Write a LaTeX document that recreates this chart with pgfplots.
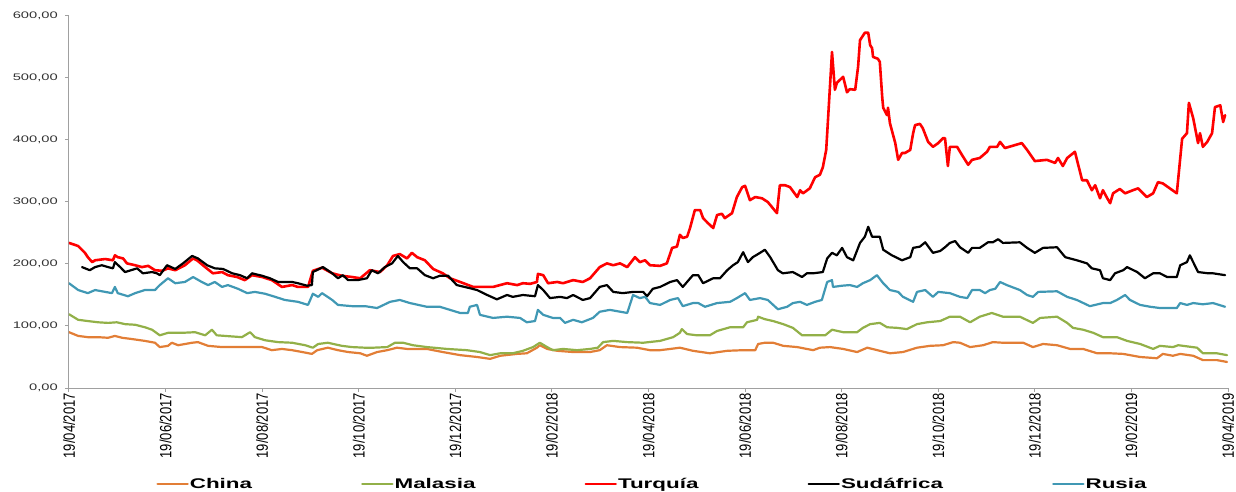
\documentclass[border=0pt]{standalone}
\usepackage{pgfplots}
\usepackage{graphicx}
\usepackage{fontspec}
\setmainfont{Liberation Sans}
\pgfplotsset{compat=1.18}
\definecolor{cChina}{RGB}{226,126,54}
\definecolor{cMal}{RGB}{146,176,72}
\definecolor{cTur}{RGB}{255,0,0}
\definecolor{cSud}{RGB}{0,0,0}
\definecolor{cRus}{RGB}{64,152,180}
\definecolor{axgray}{RGB}{160,160,160}
\newcommand{\XL}[1]{\scalebox{1}[1.25]{#1}}
\begin{document}
\begin{tikzpicture}
\path[use as bounding box] (-69pt,-104pt) rectangle (1167pt,388pt);
\begin{axis}[
  at={(0pt,0pt)}, anchor=south west,
  scale only axis, width=1159pt, height=372pt,
  xmin=0, xmax=24, ymin=0, ymax=600,
  axis x line*=bottom, axis y line*=left,
  axis line style={axgray, line width=1pt},
  tick style={axgray, line width=1pt},
  tick align=outside, major tick length=4pt,
  xtick={0,2,...,24},
  xticklabels={\XL{19/04/2017},\XL{19/06/2017},\XL{19/08/2017},\XL{19/10/2017},\XL{19/12/2017},\XL{19/02/2018},\XL{19/04/2018},\XL{19/06/2018},\XL{19/08/2018},\XL{19/10/2018},\XL{19/12/2018},\XL{19/02/2019},\XL{19/04/2019}},
  xticklabel style={rotate=90, anchor=east, font=\fontsize{13}{13}\selectfont, inner sep=1pt},
  ytick={0,100,...,600},
  yticklabel={\scalebox{1.55}[1]{\pgfmathprintnumber[fixed,fixed zerofill,precision=2,use comma,1000 sep={},assume math mode=true]{\tick}}},
  yticklabel style={font=\fontsize{9.5}{10}\selectfont, text=black!80, anchor=east, inner sep=1pt, xshift=-6pt},
  legend columns=5,
  legend style={at={(0.503,-0.258)}, anchor=center, draw=none, fill=none,
    font=\fontsize{14}{14}\selectfont\bfseries,
    /tikz/every even column/.append style={column sep=108pt},
    nodes={inner sep=1pt}},
  legend image code/.code={\draw[#1, line width=2.5pt] (0pt,0pt) -- (30pt,0pt);},
  every axis plot/.append style={line join=round, line cap=round},
]
% China
\addplot[cChina, line width=2.2pt] coordinates {
(0.00,90)(0.19,84)(0.39,82)(0.60,82)(0.81,81)(0.95,84)(1.10,81)(1.30,79)(1.57,76)(1.78,73)(1.88,66)(2.05,68)(2.13,73)(2.26,69)(2.55,73)(2.67,74)(2.88,68)(3.17,66)(3.50,66)(3.79,66)(4.00,66)(4.20,61)(4.41,63)(4.62,61)(4.83,58)(5.03,55)(5.14,61)(5.36,65)(5.57,61)(5.78,58)(6.03,56)(6.17,52)(6.38,58)(6.59,61)(6.79,65)(7.00,63)(7.41,63)(7.74,58)(8.10,53)(8.45,50)(8.72,47)(8.93,52)(9.28,55)(9.48,56)(9.69,65)(9.75,69)(9.90,63)(10.11,60)(10.44,58)(10.79,58)(10.99,61)(11.14,69)(11.41,66)(11.76,65)(12.03,61)(12.24,61)(12.45,63)(12.65,65)(12.92,60)(13.27,56)(13.63,60)(13.96,61)(14.21,61)(14.27,71)(14.41,73)(14.58,73)(14.79,68)(15.08,66)(15.41,61)(15.55,65)(15.76,66)(16.03,63)(16.32,58)(16.53,65)(16.79,60)(17.00,56)(17.27,58)(17.56,65)(17.83,68)(18.10,69)(18.31,74)(18.45,73)(18.66,66)(18.93,69)(19.13,74)(19.34,73)(19.76,73)(19.96,66)(20.17,71)(20.46,69)(20.73,63)(21.00,63)(21.29,56)(21.56,56)(21.83,55)(22.18,50)(22.53,48)(22.65,55)(22.86,52)(23.01,55)(23.28,52)(23.48,45)(23.77,45)(23.98,42)
};
\addlegendentry{\scalebox{1.6}[1]{China}}
% Malasia
\addplot[cMal, line width=2.2pt] coordinates {
(0.00,119)(0.19,110)(0.39,108)(0.60,106)(0.81,105)(0.99,106)(1.16,103)(1.37,102)(1.57,98)(1.72,94)(1.88,85)(2.05,89)(2.34,89)(2.61,90)(2.82,85)(2.96,94)(3.06,85)(3.23,84)(3.58,82)(3.75,90)(3.85,82)(4.06,77)(4.33,74)(4.62,73)(4.89,69)(5.05,65)(5.16,71)(5.36,73)(5.65,68)(5.86,66)(6.13,65)(6.30,65)(6.59,66)(6.75,73)(6.92,73)(7.12,69)(7.41,66)(7.83,63)(8.24,61)(8.51,58)(8.72,53)(8.93,56)(9.19,56)(9.40,60)(9.61,66)(9.75,73)(9.90,66)(10.02,61)(10.23,63)(10.52,61)(10.79,63)(10.95,65)(11.06,74)(11.27,76)(11.56,74)(11.89,73)(12.24,76)(12.51,82)(12.65,89)(12.69,95)(12.80,87)(13.00,85)(13.27,85)(13.42,92)(13.69,98)(13.96,98)(14.04,106)(14.25,110)(14.27,115)(14.41,111)(14.58,108)(14.79,103)(14.99,97)(15.18,85)(15.41,85)(15.66,85)(15.80,94)(16.03,90)(16.32,90)(16.44,97)(16.59,103)(16.79,105)(16.94,98)(17.15,97)(17.35,95)(17.56,103)(17.77,106)(18.04,108)(18.24,115)(18.45,115)(18.66,106)(18.86,115)(19.11,121)(19.34,115)(19.69,115)(19.96,105)(20.11,113)(20.46,115)(20.67,105)(20.79,97)(21.00,94)(21.21,89)(21.41,82)(21.70,82)(21.91,76)(22.18,71)(22.45,63)(22.59,68)(22.86,66)(22.97,69)(23.07,68)(23.36,65)(23.48,56)(23.77,56)(23.98,53)
};
\addlegendentry{\scalebox{1.6}[1]{Malasia}}
% Turquia
\addplot[cTur, line width=2.6pt] coordinates {
(0.00,234)(0.19,229)(0.33,218)(0.39,211)(0.48,203)(0.54,206)(0.75,208)(0.91,206)(0.95,214)(1.01,211)(1.12,209)(1.20,201)(1.37,198)(1.51,195)(1.64,197)(1.78,190)(1.93,189)(2.05,193)(2.20,190)(2.40,198)(2.57,209)(2.65,206)(2.82,195)(2.98,185)(3.17,187)(3.29,182)(3.48,179)(3.64,174)(3.79,182)(4.00,179)(4.20,174)(4.41,163)(4.62,166)(4.74,163)(4.95,163)(5.05,189)(5.24,194)(5.45,185)(5.65,181)(5.86,179)(6.03,177)(6.23,190)(6.44,187)(6.59,198)(6.71,213)(6.85,216)(7.00,209)(7.10,218)(7.21,211)(7.37,206)(7.54,192)(7.74,185)(7.89,177)(8.10,171)(8.37,163)(8.57,163)(8.78,163)(9.07,169)(9.28,166)(9.40,169)(9.55,168)(9.69,171)(9.71,184)(9.82,182)(9.92,169)(10.11,171)(10.23,169)(10.44,174)(10.64,171)(10.79,177)(10.99,195)(11.14,201)(11.27,198)(11.41,201)(11.56,195)(11.72,211)(11.82,203)(11.93,206)(12.03,198)(12.24,197)(12.38,201)(12.49,226)(12.59,228)(12.65,247)(12.71,242)(12.80,244)(12.86,258)(12.96,287)(13.07,287)(13.13,274)(13.23,266)(13.34,258)(13.42,279)(13.52,281)(13.58,274)(13.73,282)(13.83,308)(13.94,324)(14.00,326)(14.10,303)(14.21,308)(14.35,306)(14.47,300)(14.66,282)(14.72,327)(14.83,327)(14.93,324)(15.08,308)(15.14,319)(15.20,314)(15.34,322)(15.45,340)(15.55,344)(15.61,356)(15.68,384)(15.80,542)(15.86,481)(15.90,492)(16.03,502)(16.11,477)(16.17,482)(16.28,481)(16.34,518)(16.38,561)(16.48,573)(16.55,573)(16.59,553)(16.63,548)(16.65,534)(16.75,531)(16.79,526)(16.84,469)(16.86,452)(16.94,440)(16.96,452)(17.00,427)(17.11,395)(17.17,368)(17.25,379)(17.31,379)(17.42,384)(17.48,411)(17.52,424)(17.62,426)(17.68,419)(17.79,397)(17.89,389)(18.00,395)(18.10,403)(18.14,403)(18.20,358)(18.24,389)(18.39,389)(18.49,376)(18.62,360)(18.70,368)(18.86,371)(19.01,381)(19.07,389)(19.22,389)(19.28,397)(19.38,387)(19.73,395)(19.84,384)(20.00,366)(20.25,368)(20.42,363)(20.48,371)(20.58,358)(20.67,371)(20.83,381)(20.98,335)(21.08,335)(21.18,319)(21.25,327)(21.35,306)(21.41,319)(21.50,306)(21.56,298)(21.62,314)(21.76,321)(21.87,314)(22.03,319)(22.14,322)(22.32,308)(22.45,314)(22.55,332)(22.65,330)(22.94,314)(23.05,402)(23.15,411)(23.19,460)(23.28,435)(23.38,395)(23.42,411)(23.48,389)(23.57,397)(23.67,411)(23.73,453)(23.84,456)(23.90,429)(23.94,440)
};
\addlegendentry{\scalebox{1.6}[1]{Turquía}}
% Sudafrica
\addplot[cSud, line width=2.2pt] coordinates {
(0.27,195)(0.43,190)(0.54,195)(0.68,198)(0.81,195)(0.91,193)(0.95,203)(1.06,195)(1.16,187)(1.41,193)(1.53,185)(1.72,187)(1.82,185)(1.88,182)(2.03,198)(2.20,192)(2.36,201)(2.55,213)(2.67,209)(2.86,198)(3.02,193)(3.19,192)(3.38,185)(3.54,182)(3.69,177)(3.79,185)(4.00,181)(4.16,177)(4.33,171)(4.62,171)(4.74,169)(4.93,165)(5.03,166)(5.05,187)(5.26,195)(5.45,185)(5.57,177)(5.67,182)(5.78,174)(5.98,174)(6.17,177)(6.27,190)(6.40,185)(6.54,195)(6.69,201)(6.81,213)(6.92,203)(7.06,193)(7.21,193)(7.37,182)(7.54,177)(7.68,181)(7.85,181)(8.03,166)(8.30,161)(8.45,158)(8.66,150)(8.86,143)(9.07,150)(9.19,147)(9.40,150)(9.65,148)(9.71,166)(9.82,158)(9.96,145)(10.17,147)(10.31,145)(10.44,150)(10.64,142)(10.79,145)(10.99,163)(11.14,166)(11.27,155)(11.47,153)(11.68,155)(11.89,155)(11.97,148)(12.09,160)(12.24,163)(12.45,171)(12.59,174)(12.71,163)(12.92,182)(13.03,182)(13.13,169)(13.34,177)(13.48,177)(13.63,190)(13.75,198)(13.85,203)(13.96,219)(14.06,203)(14.16,211)(14.31,218)(14.41,223)(14.52,211)(14.68,190)(14.78,185)(14.99,187)(15.18,179)(15.28,185)(15.41,185)(15.61,187)(15.70,209)(15.80,218)(15.90,214)(16.01,226)(16.11,211)(16.24,206)(16.38,234)(16.48,244)(16.55,260)(16.63,244)(16.79,244)(16.86,223)(17.04,214)(17.25,206)(17.42,211)(17.48,226)(17.62,228)(17.73,235)(17.89,218)(18.04,221)(18.14,227)(18.24,234)(18.35,237)(18.45,227)(18.62,218)(18.70,226)(18.86,226)(19.03,235)(19.13,235)(19.24,240)(19.34,234)(19.69,235)(19.84,226)(20.00,218)(20.17,226)(20.46,227)(20.63,211)(20.87,206)(21.08,201)(21.18,193)(21.35,190)(21.41,177)(21.56,174)(21.66,185)(21.83,190)(21.91,195)(22.12,187)(22.28,177)(22.45,185)(22.59,185)(22.74,179)(22.94,179)(23.01,198)(23.15,203)(23.21,214)(23.38,187)(23.59,185)(23.69,185)(23.94,182)
};
\addlegendentry{\scalebox{1.6}[1]{Sudáfrica}}
% Rusia
\addplot[cRus, line width=2.2pt] coordinates {
(0.00,169)(0.19,158)(0.39,153)(0.54,158)(0.75,155)(0.89,153)(0.95,163)(1.01,153)(1.22,148)(1.37,153)(1.57,158)(1.78,158)(1.88,166)(2.05,177)(2.20,169)(2.40,171)(2.57,179)(2.75,171)(2.88,166)(3.02,171)(3.17,163)(3.29,166)(3.50,160)(3.69,153)(3.85,155)(4.06,152)(4.27,147)(4.47,142)(4.74,139)(4.95,134)(5.05,152)(5.16,147)(5.24,153)(5.45,142)(5.57,134)(5.86,132)(6.13,132)(6.38,129)(6.65,139)(6.85,142)(7.06,137)(7.41,131)(7.68,131)(7.89,126)(8.10,121)(8.26,121)(8.30,131)(8.45,134)(8.51,118)(8.78,113)(9.07,115)(9.34,113)(9.48,106)(9.65,108)(9.71,126)(9.82,118)(10.02,113)(10.17,113)(10.27,105)(10.44,110)(10.62,106)(10.85,113)(10.99,123)(11.20,126)(11.56,121)(11.68,150)(11.82,145)(11.93,147)(12.03,137)(12.24,134)(12.45,142)(12.61,145)(12.71,132)(12.92,137)(13.03,137)(13.17,131)(13.42,137)(13.69,139)(13.83,145)(14.00,153)(14.10,142)(14.31,145)(14.47,142)(14.68,127)(14.87,131)(14.99,137)(15.14,139)(15.28,134)(15.45,139)(15.59,142)(15.70,171)(15.80,174)(15.82,163)(16.01,165)(16.17,166)(16.32,163)(16.44,169)(16.59,174)(16.73,182)(16.86,169)(17.00,158)(17.17,155)(17.27,147)(17.48,139)(17.56,155)(17.73,158)(17.89,147)(18.00,155)(18.24,153)(18.45,147)(18.60,145)(18.70,158)(18.86,158)(18.97,153)(19.07,158)(19.18,160)(19.28,171)(19.42,166)(19.69,158)(19.84,150)(19.96,147)(20.07,155)(20.46,156)(20.67,147)(20.87,142)(21.14,132)(21.41,137)(21.56,137)(21.70,142)(21.87,150)(21.97,142)(22.18,134)(22.39,131)(22.59,129)(22.94,129)(23.01,137)(23.15,134)(23.28,137)(23.48,135)(23.69,137)(23.94,131)
};
\addlegendentry{\scalebox{1.6}[1]{Rusia}}
\end{axis}
\end{tikzpicture}
\end{document}
